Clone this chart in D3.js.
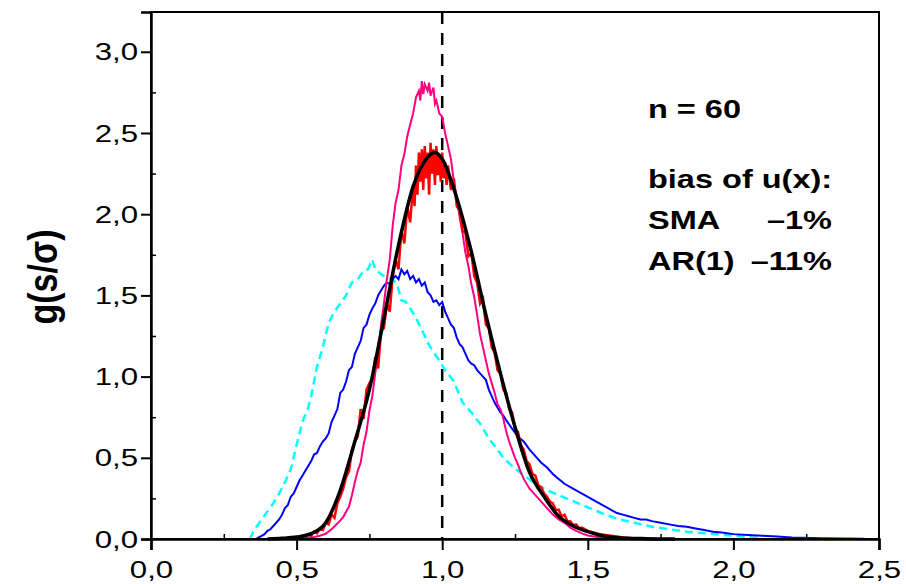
<!DOCTYPE html>
<html>
<head>
<meta charset="utf-8">
<script src="https://cdn.jsdelivr.net/npm/d3@7"></script>
<style>
  body { margin: 0; background: #fff; }
  text { font-family: "Liberation Sans", Arial, sans-serif; }
</style>
</head>
<body>
<div id="chart"></div>
<script>
// Width and height of the page
var width = 906, height = 584;
var margin = {top: 12, right: 27, bottom: 45, left: 151};

// Tick values
var xTicks = [0, 0.5, 1.0, 1.5, 2.0, 2.5];
var yTicks = [0, 0.5, 1.0, 1.5, 2.0, 2.5, 3.0];
var xMinor = [0.25, 0.75, 1.25, 1.75, 2.25];
var yMinor = [0.25, 0.75, 1.25, 1.75, 2.25, 2.75];

// Black smooth curve (x, g)
var blackX = [0.40, 0.45, 0.50, 0.55, 0.60, 0.65, 0.70, 0.75, 0.80, 0.85, 0.90, 0.95, 0.975, 1.00, 1.05, 1.10, 1.15, 1.20, 1.25, 1.30, 1.35, 1.40, 1.45, 1.50, 1.55, 1.60, 1.70, 1.80];
var blackY = [0, 0.004, 0.012, 0.033, 0.10, 0.30, 0.60, 0.92, 1.36, 1.81, 2.17, 2.35, 2.38, 2.34, 2.10, 1.77, 1.38, 1.02, 0.69, 0.41, 0.26, 0.14, 0.08, 0.045, 0.02, 0.008, 0.002, 0];

// Pink curve
var pinkX = [0.48, 0.50, 0.52, 0.54, 0.56, 0.58, 0.60, 0.62, 0.64, 0.66, 0.68, 0.69, 0.70, 0.71, 0.72, 0.73, 0.74, 0.75, 0.76, 0.77, 0.78, 0.79, 0.80, 0.81, 0.82, 0.83, 0.84, 0.85, 0.86, 0.87, 0.88, 0.89, 0.90, 0.91, 0.92, 0.925, 0.93, 0.935, 0.94, 0.95, 0.955, 0.96, 0.97, 0.975, 0.98, 0.99, 1.00, 1.01, 1.02, 1.03, 1.04, 1.05, 1.06, 1.07, 1.08, 1.09, 1.10, 1.11, 1.12, 1.13, 1.14, 1.15, 1.16, 1.17, 1.18, 1.19, 1.20, 1.21, 1.22, 1.23, 1.24, 1.25, 1.26, 1.27, 1.28, 1.30, 1.32, 1.34, 1.36, 1.38, 1.40, 1.42, 1.44, 1.46, 1.48, 1.50, 1.52, 1.55, 1.60, 1.65];
var pinkY = [0, 0.003, 0.005, 0.008, 0.012, 0.020, 0.032, 0.060, 0.095, 0.135, 0.20, 0.27, 0.35, 0.42, 0.47, 0.58, 0.66, 0.79, 0.88, 1.02, 1.13, 1.32, 1.45, 1.60, 1.72, 1.93, 2.07, 2.15, 2.30, 2.37, 2.48, 2.55, 2.62, 2.72, 2.76, 2.70, 2.82, 2.74, 2.80, 2.76, 2.81, 2.73, 2.78, 2.68, 2.70, 2.62, 2.60, 2.50, 2.42, 2.34, 2.20, 2.10, 1.98, 1.88, 1.76, 1.68, 1.57, 1.49, 1.38, 1.26, 1.18, 1.10, 1.02, 0.96, 0.90, 0.83, 0.80, 0.74, 0.66, 0.60, 0.55, 0.50, 0.46, 0.41, 0.37, 0.31, 0.27, 0.23, 0.19, 0.15, 0.12, 0.10, 0.07, 0.05, 0.035, 0.022, 0.015, 0.008, 0.003, 0];

// Red noisy curve
var redX = [0.48, 0.50, 0.52, 0.54, 0.55, 0.56, 0.57, 0.58, 0.59, 0.60, 0.61, 0.62, 0.63, 0.64, 0.65, 0.66, 0.67, 0.68, 0.69, 0.70, 0.71, 0.72, 0.73, 0.74, 0.75, 0.76, 0.77, 0.78, 0.79, 0.80, 0.81, 0.82, 0.83, 0.84, 0.85, 0.86, 0.87, 0.88, 0.89, 0.90, 0.905, 0.91, 0.915, 0.92, 0.925, 0.93, 0.935, 0.94, 0.945, 0.95, 0.955, 0.96, 0.965, 0.97, 0.975, 0.98, 0.985, 0.99, 0.995, 1.00, 1.005, 1.01, 1.015, 1.02, 1.03, 1.04, 1.05, 1.06, 1.07, 1.08, 1.09, 1.10, 1.11, 1.12, 1.13, 1.14, 1.15, 1.16, 1.17, 1.18, 1.19, 1.20, 1.21, 1.22, 1.23, 1.24, 1.25, 1.26, 1.27, 1.28, 1.29, 1.30, 1.31, 1.32, 1.33, 1.34, 1.35, 1.36, 1.37, 1.38, 1.39, 1.40, 1.41, 1.42, 1.43, 1.44, 1.45, 1.46, 1.47, 1.48, 1.50, 1.52, 1.54, 1.56, 1.58, 1.60, 1.62, 1.65, 1.70];
var redY = [0, 0.008, 0.015, 0.030, 0.020, 0.045, 0.035, 0.065, 0.055, 0.10, 0.09, 0.15, 0.13, 0.22, 0.26, 0.31, 0.38, 0.42, 0.55, 0.60, 0.63, 0.80, 0.74, 0.92, 0.96, 0.98, 1.12, 1.05, 1.28, 1.30, 1.45, 1.40, 1.62, 1.72, 1.66, 1.90, 1.82, 2.05, 1.95, 2.18, 2.05, 2.30, 2.12, 2.38, 2.20, 2.40, 2.15, 2.42, 2.22, 2.38, 2.12, 2.44, 2.25, 2.40, 2.18, 2.42, 2.24, 2.36, 2.20, 2.38, 2.22, 2.32, 2.18, 2.30, 2.15, 2.22, 2.05, 2.02, 1.90, 1.88, 1.74, 1.76, 1.62, 1.58, 1.45, 1.48, 1.32, 1.30, 1.18, 1.15, 1.04, 1.02, 0.92, 0.90, 0.80, 0.78, 0.68, 0.66, 0.58, 0.55, 0.48, 0.46, 0.40, 0.39, 0.33, 0.32, 0.28, 0.26, 0.23, 0.22, 0.18, 0.18, 0.14, 0.15, 0.11, 0.11, 0.085, 0.09, 0.065, 0.07, 0.05, 0.04, 0.03, 0.025, 0.02, 0.015, 0.01, 0.005, 0];

// Blue curve
var blueX = [0.36, 0.37, 0.38, 0.39, 0.40, 0.41, 0.42, 0.43, 0.44, 0.45, 0.46, 0.47, 0.48, 0.49, 0.50, 0.51, 0.52, 0.53, 0.54, 0.55, 0.56, 0.57, 0.58, 0.59, 0.60, 0.61, 0.62, 0.63, 0.64, 0.65, 0.66, 0.67, 0.68, 0.69, 0.70, 0.71, 0.72, 0.73, 0.74, 0.75, 0.76, 0.77, 0.78, 0.79, 0.80, 0.81, 0.82, 0.83, 0.84, 0.85, 0.86, 0.87, 0.88, 0.89, 0.90, 0.91, 0.92, 0.93, 0.94, 0.95, 0.96, 0.97, 0.98, 0.99, 1.00, 1.01, 1.02, 1.03, 1.04, 1.05, 1.06, 1.07, 1.08, 1.09, 1.10, 1.11, 1.12, 1.13, 1.14, 1.15, 1.16, 1.17, 1.18, 1.19, 1.20, 1.21, 1.22, 1.24, 1.26, 1.28, 1.30, 1.32, 1.34, 1.36, 1.38, 1.40, 1.42, 1.44, 1.46, 1.48, 1.50, 1.52, 1.54, 1.56, 1.58, 1.60, 1.62, 1.64, 1.66, 1.68, 1.70, 1.72, 1.75, 1.78, 1.81, 1.84, 1.87, 1.90, 1.93, 1.96, 2.00, 2.05, 2.10, 2.15, 2.20, 2.30, 2.45];
var blueY = [0, 0.01, 0.02, 0.03, 0.05, 0.06, 0.08, 0.10, 0.12, 0.15, 0.19, 0.21, 0.26, 0.28, 0.32, 0.36, 0.39, 0.42, 0.45, 0.48, 0.52, 0.53, 0.57, 0.60, 0.62, 0.65, 0.72, 0.76, 0.80, 0.90, 0.92, 0.97, 1.04, 1.06, 1.14, 1.18, 1.22, 1.30, 1.32, 1.38, 1.42, 1.45, 1.50, 1.53, 1.56, 1.58, 1.57, 1.60, 1.62, 1.60, 1.66, 1.63, 1.65, 1.60, 1.62, 1.58, 1.60, 1.56, 1.58, 1.52, 1.50, 1.46, 1.47, 1.44, 1.46, 1.40, 1.36, 1.32, 1.30, 1.24, 1.20, 1.18, 1.14, 1.10, 1.08, 1.07, 1.04, 1.02, 1.00, 0.98, 0.92, 0.88, 0.84, 0.81, 0.78, 0.76, 0.73, 0.68, 0.63, 0.60, 0.55, 0.51, 0.47, 0.44, 0.40, 0.37, 0.34, 0.32, 0.30, 0.28, 0.26, 0.24, 0.22, 0.20, 0.18, 0.16, 0.15, 0.14, 0.13, 0.12, 0.12, 0.11, 0.10, 0.09, 0.08, 0.075, 0.065, 0.055, 0.045, 0.04, 0.03, 0.025, 0.02, 0.015, 0.01, 0.005, 0.002];

// Cyan dashed curve
var cyanX = [0.34, 0.35, 0.36, 0.38, 0.40, 0.42, 0.44, 0.46, 0.48, 0.50, 0.52, 0.54, 0.55, 0.57, 0.59, 0.61, 0.63, 0.65, 0.67, 0.69, 0.71, 0.73, 0.745, 0.76, 0.77, 0.79, 0.81, 0.83, 0.845, 0.86, 0.875, 0.89, 0.91, 0.93, 0.95, 0.97, 0.99, 1.01, 1.04, 1.07, 1.10, 1.13, 1.16, 1.19, 1.21, 1.24, 1.26, 1.29, 1.32, 1.36, 1.40, 1.44, 1.48, 1.52, 1.56, 1.61, 1.66, 1.72, 1.78, 1.84, 1.90, 1.95, 2.00, 2.05, 2.10];
var cyanY = [0, 0.04, 0.07, 0.12, 0.17, 0.22, 0.28, 0.35, 0.43, 0.58, 0.72, 0.81, 0.88, 1.06, 1.18, 1.33, 1.40, 1.45, 1.50, 1.58, 1.60, 1.65, 1.66, 1.72, 1.66, 1.63, 1.61, 1.60, 1.57, 1.47, 1.46, 1.42, 1.36, 1.29, 1.21, 1.15, 1.10, 1.04, 0.97, 0.84, 0.78, 0.71, 0.62, 0.55, 0.50, 0.45, 0.42, 0.38, 0.34, 0.30, 0.27, 0.24, 0.21, 0.18, 0.15, 0.12, 0.10, 0.075, 0.06, 0.045, 0.035, 0.028, 0.02, 0.012, 0.005];

// Annotation lines
var noteLines = ["n = 60", "bias of u(x):"];
var biasNames = ["SMA", "AR(1)"];
var biasValues = ["\u20131%", "\u201311%"];

// the reference text is drawn a bit wide, so stretch it horizontally
var stretch = 1.3;

var svg = d3.select("#chart").append("svg")
    .attr("width", width)
    .attr("height", height);

var innerW = width - margin.left - margin.right,
    innerH = height - margin.top - margin.bottom;

var x = d3.scaleLinear().domain([0, 2.5]).range([margin.left, margin.left + innerW]);
var y = d3.scaleLinear().domain([0, 3.245]).range([margin.top + innerH, margin.top]);

function zipXY(xs, ys) {
    return xs.map(function(v, i) { return [v, ys[i]]; });
}

var line = d3.line()
    .x(function(d) { return x(d[0]); })
    .y(function(d) { return y(d[1]); });

var smooth = d3.line()
    .curve(d3.curveMonotoneX)
    .x(function(d) { return x(d[0]); })
    .y(function(d) { return y(d[1]); });

var plot = svg.append("g");

// Dashed reference line at s/sigma = 1
plot.append("line")
    .attr("x1", x(1)).attr("x2", x(1))
    .attr("y1", margin.top).attr("y2", margin.top + innerH)
    .attr("stroke", "#000")
    .attr("stroke-width", 2.5)
    .attr("stroke-dasharray", "12,9");

plot.append("path")
    .attr("d", line(zipXY(cyanX, cyanY)))
    .attr("fill", "none")
    .attr("stroke", "#00ffff")
    .attr("stroke-width", 2.5)
    .attr("stroke-dasharray", "8,5");

plot.append("path")
    .attr("d", line(zipXY(blueX, blueY)))
    .attr("fill", "none")
    .attr("stroke", "#0000ff")
    .attr("stroke-width", 2);

plot.append("path")
    .attr("d", line(zipXY(pinkX, pinkY)))
    .attr("fill", "none")
    .attr("stroke", "#ff0080")
    .attr("stroke-width", 2);

plot.append("path")
    .attr("d", line(zipXY(redX, redY)))
    .attr("fill", "none")
    .attr("stroke", "#ff0000")
    .attr("stroke-width", 2.5);

plot.append("path")
    .attr("d", smooth(zipXY(blackX, blackY)))
    .attr("fill", "none")
    .attr("stroke", "#000")
    .attr("stroke-width", 3.5);

// Frame
svg.append("rect")
    .attr("x", margin.left).attr("y", margin.top)
    .attr("width", innerW).attr("height", innerH)
    .attr("fill", "none")
    .attr("stroke", "#000")
    .attr("stroke-width", 2);

var fmt = function(d) { return d3.format(".1f")(d).replace(".", ","); };

// Axes
var xAxis = svg.append("g")
    .attr("transform", "translate(0," + (margin.top + innerH) + ")")
    .call(d3.axisBottom(x).tickValues(xTicks).tickSize(11).tickFormat(fmt));

var yAxis = svg.append("g")
    .attr("transform", "translate(" + margin.left + ",0)")
    .call(d3.axisLeft(y).tickValues(yTicks).tickSize(10).tickFormat(fmt));

[xAxis, yAxis].forEach(function(a) {
    a.select(".domain").attr("stroke-width", 2.5);
    a.selectAll(".tick line").attr("stroke-width", 2);
    a.selectAll(".tick text")
        .attr("font-size", 24)
        .attr("fill", "#000")
        .style("font-family", "'Liberation Sans', Arial, sans-serif");
});

// stretch tick labels like the reference
xAxis.selectAll(".tick text")
    .attr("y", null).attr("dy", null)
    .attr("transform", "translate(0,39) scale(" + stretch + ",1)");
yAxis.selectAll(".tick text")
    .attr("x", null).attr("dy", "0.34em")
    .attr("transform", "translate(-13,0) scale(" + stretch + ",1)");

// Minor ticks point inside
svg.append("g")
    .attr("transform", "translate(0," + (margin.top + innerH) + ")")
    .call(d3.axisTop(x).tickValues(xMinor).tickSize(5).tickFormat(""))
    .call(function(g) { g.select(".domain").remove(); g.selectAll("line").attr("stroke-width", 1.5); });

svg.append("g")
    .attr("transform", "translate(" + margin.left + ",0)")
    .call(d3.axisRight(y).tickValues(yMinor).tickSize(5).tickFormat(""))
    .call(function(g) { g.select(".domain").remove(); g.selectAll("line").attr("stroke-width", 1.5); });

// Y axis title
svg.append("text")
    .attr("transform", "translate(57,277) rotate(-90) scale(1,1.2)")
    .attr("text-anchor", "middle")
    .attr("font-size", 34)
    .attr("font-weight", "bold")
    .text("g(s/\u03C3)");

// Annotations
var notes = svg.append("g")
    .attr("font-size", 25)
    .attr("font-weight", "bold");

function note(txt, tx, ty, anchor) {
    notes.append("text")
        .attr("transform", "translate(" + tx + "," + ty + ") scale(" + stretch + ",1)")
        .attr("text-anchor", anchor)
        .text(txt);
}

note(noteLines[0], 648, 118, "start");
note(noteLines[1], 648, 188, "start");

biasNames.forEach(function(name, i) {
    note(name, 648, 229 + i * 41, "start");
    note(biasValues[i], 832, 229 + i * 41, "end");
});
</script>
</body>
</html>
